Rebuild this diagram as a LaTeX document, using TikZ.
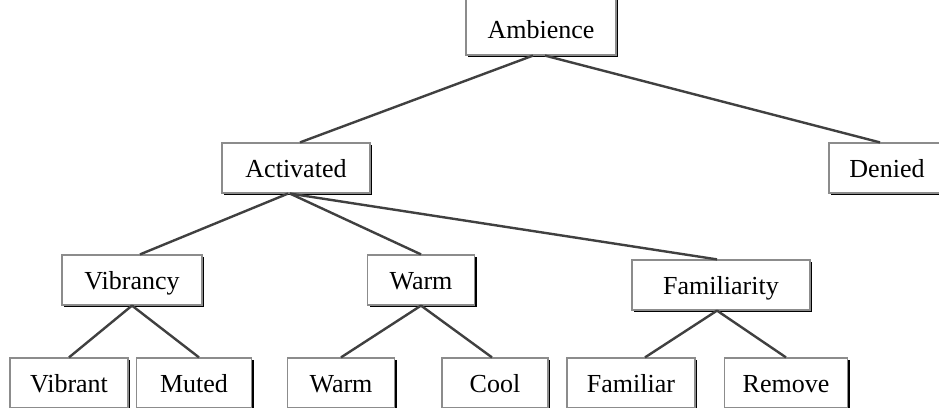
\documentclass[tikz,border=0pt]{standalone}
\usepackage{fontspec}
\setmainfont{Liberation Serif}
\usetikzlibrary{shadows}

\tikzset{
  cat/.style={rectangle,draw=black!45,line width=1.2pt,fill=white,
    minimum height=50,inner sep=0pt,text height=20pt,text depth=2pt,
    font=\fontsize{26}{30}\selectfont,
    general shadow={fill=black,opacity=1,shadow xshift=2.2pt,shadow yshift=-2.2pt}},
  link/.style={draw=black!75,line width=2.4pt}
}

\begin{document}
\begin{tikzpicture}[x=1pt,y=-1pt]
    \fill[white,use as bounding box] (0,0) rectangle (939,407);
    \clip (0,0) rectangle (939,407);

    % Nodes {{{
    \node[cat,minimum width=150,minimum height=58,text height=24pt,text depth=0pt]
      (amb) at (541,26) {Ambience};

    \node[cat,minimum width=148] (act) at (296,168) {Activated};
    \node[cat,minimum width=116] (den) at (887,168) {Denied};

    \node[cat,minimum width=140] (vib)  at (132,280) {Vibrancy};
    \node[cat,minimum width=107] (warm) at (421,280) {Warm};
    \node[cat,minimum width=178] (fam)  at (721,285) {Familiarity};

    \begin{scope}[every node/.append style={minimum height=52}]
      \node[cat,minimum width=118] (vibrant)  at (69,383)  {Vibrant};
      \node[cat,minimum width=115] (muted)    at (194,383) {Muted};
      \node[cat,minimum width=107] (warmw)    at (341,383) {Warm};
      \node[cat,minimum width=106] (cool)     at (495,383) {Cool};
      \node[cat,minimum width=128] (familiar) at (631,383) {Familiar};
      \node[cat,minimum width=123] (remove)   at (786,383) {Remove};
    \end{scope}
    % }}}

    % Links {{{
    \draw[link] ([xshift=-8]amb.south) -- ([xshift=4]act.north);
    \draw[link] ([xshift=4]amb.south) -- ([xshift=-7]den.north);

    \draw[link] ([xshift=-8]act.south) -- ([xshift=8]vib.north);
    \draw[link] ([xshift=-6]act.south) -- (warm.north);
    \draw[link] ([xshift=-6]act.south) -- ([xshift=-4]fam.north);

    \draw[link] (vib.south) -- (vibrant.north);
    \draw[link] (vib.south) -- ([xshift=5]muted.north);
    \draw[link] (warm.south) -- (warmw.north);
    \draw[link] (warm.south) -- ([xshift=-3]cool.north);
    \draw[link] ([xshift=-4]fam.south) -- ([xshift=14]familiar.north);
    \draw[link] ([xshift=-4]fam.south) -- (remove.north);
    % }}}
\end{tikzpicture}
\end{document}
